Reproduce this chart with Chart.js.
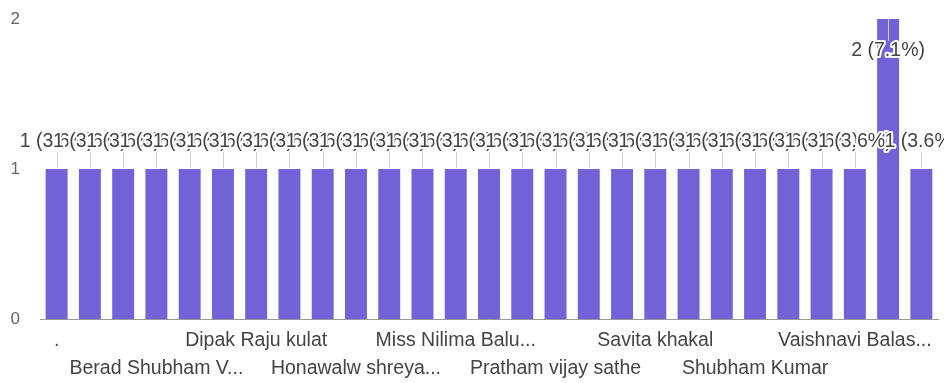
<!DOCTYPE html>
<html lang="en">
<head>
    <meta charset="UTF-8">
    <title>Responses</title>
    <script src="https://cdn.jsdelivr.net/npm/chart.js"></script>
    <style>
        body {
            margin: 0;
            background-color: #ffffff;
        }
        #wrap {
            width: 944px;
            height: 383px;
        }
    </style>
</head>
<body>
    <div id="wrap"><canvas id="respChart" width="944" height="383"></canvas></div>

    <script>
        // answers, sorted alphabetically; only every third name is printed on the axis
        const names = [
            '.', '', '', 'Berad Shubham V...', '', '', 'Dipak Raju kulat', '', '',
            'Honawalw shreya...', '', '', 'Miss Nilima Balu...', '', '', 'Pratham vijay sathe', '', '',
            'Savita khakal', '', '', 'Shubham Kumar', '', '', 'Vaishnavi Balas...', '', ''
        ];
        const counts = [
            1, 1, 1, 1, 1, 1, 1, 1, 1,
            1, 1, 1, 1, 1, 1, 1, 1, 1,
            1, 1, 1, 1, 1, 1, 1, 2, 1
        ];
        const yTicks = [0, 1, 2];

        const total = counts.reduce((a, b) => a + b, 0);
        const barColor = '#7262d8';
        const fontFamily = 'Arial, "Liberation Sans", sans-serif';

        // value labels with stems, drawn with a white halo like the forms summary
        const valueLabels = {
            id: 'valueLabels',
            afterDatasetsDraw(chart) {
                const ctx = chart.ctx;
                const meta = chart.getDatasetMeta(0);
                const yMax = chart.scales.y.max;
                ctx.save();
                ctx.font = '19.5px ' + fontFamily;
                ctx.textAlign = 'center';
                ctx.textBaseline = 'middle';
                meta.data.forEach((bar, i) => {
                    const v = counts[i];
                    const txt = v + ' (' + (v / total * 100).toFixed(1) + '%)';
                    let ty, s0, s1;
                    if (v >= yMax) {
                        ty = bar.y + 32;
                        s0 = bar.y;
                        s1 = bar.y + 22;
                    } else {
                        ty = bar.y - 27;
                        s0 = bar.y - 17;
                        s1 = bar.y - 1;
                    }
                    ctx.strokeStyle = '#cfcfcf';
                    ctx.lineWidth = 1;
                    ctx.beginPath();
                    ctx.moveTo(Math.round(bar.x) + 0.5, s0);
                    ctx.lineTo(Math.round(bar.x) + 0.5, s1);
                    ctx.stroke();

                    ctx.lineJoin = 'round';
                    ctx.lineWidth = 4;
                    ctx.strokeStyle = '#ffffff';
                    ctx.strokeText(txt, bar.x, ty);
                    ctx.fillStyle = '#444444';
                    ctx.fillText(txt, bar.x, ty);
                });
                ctx.restore();
            }
        };

        const ctx = document.getElementById('respChart').getContext('2d');
        new Chart(ctx, {
            type: 'bar',
            data: {
                labels: names,
                datasets: [{
                    data: counts,
                    backgroundColor: barColor,
                    borderWidth: 0,
                    barPercentage: 0.66,
                    categoryPercentage: 1.0
                }]
            },
            options: {
                responsive: false,
                animation: false,
                layout: {
                    padding: { top: 19, right: 6, left: 0, bottom: 0 }
                },
                plugins: {
                    legend: { display: false },
                    tooltip: { enabled: false }
                },
                scales: {
                    x: {
                        grid: { display: false, drawTicks: false },
                        border: { display: true, color: '#999999', width: 1 },
                        afterFit(scale) {
                            scale.height = 64;
                            scale.paddingLeft = 0;
                            scale.paddingRight = 0;
                        },
                        ticks: {
                            autoSkip: false,
                            maxRotation: 0,
                            minRotation: 0,
                            padding: 8,
                            color: '#444444',
                            font: { family: fontFamily, size: 19.5, lineHeight: 1.44 },
                            callback(value, index) {
                                const name = names[index];
                                if (!name) return '';
                                return (index / 3) % 2 === 0 ? name : ['', name];
                            }
                        }
                    },
                    y: {
                        min: 0,
                        max: 2,
                        afterFit(scale) {
                            scale.width = 40;
                            scale.paddingTop = 0;
                            scale.paddingBottom = 0;
                        },
                        afterBuildTicks(scale) {
                            scale.ticks = yTicks.map(v => ({ value: v }));
                        },
                        grid: { display: false, drawTicks: false },
                        border: { display: false },
                        ticks: {
                            padding: 20,
                            color: '#666666',
                            font: { family: fontFamily, size: 17 }
                        }
                    }
                }
            },
            plugins: [valueLabels]
        });
    </script>
</body>
</html>
